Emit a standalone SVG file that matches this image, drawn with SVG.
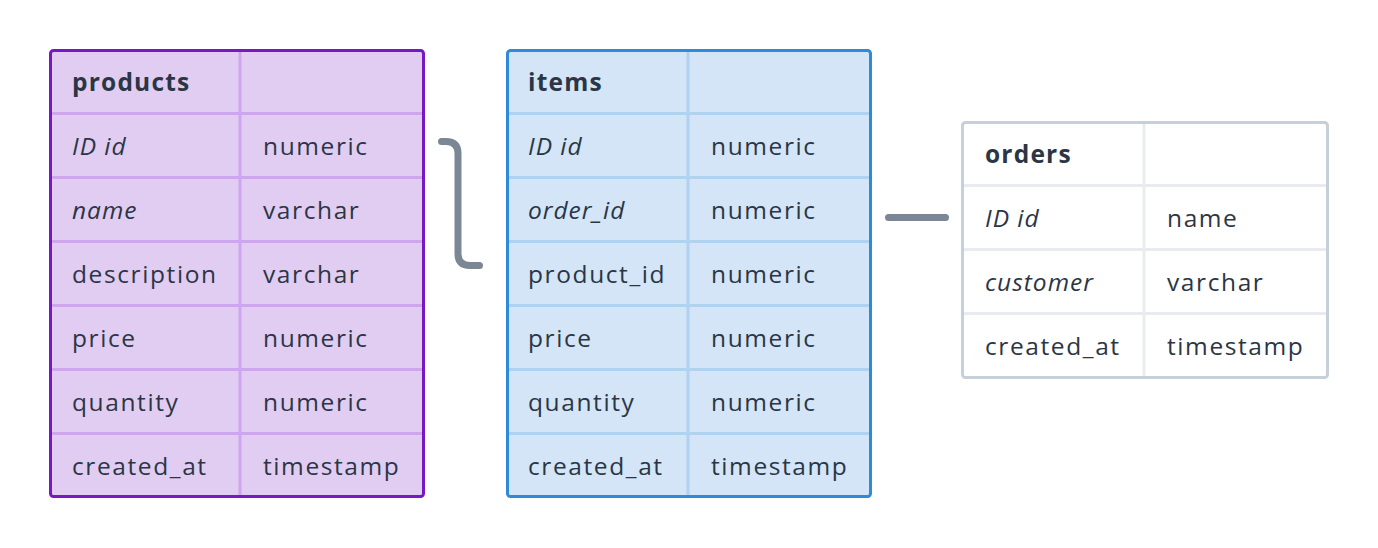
<svg xmlns="http://www.w3.org/2000/svg" width="1378" height="548" viewBox="0 0 1378 548">
<style>
text{font-family:"Open Sans","DejaVu Sans",sans-serif;font-size:24.5px;letter-spacing:1.6px;fill:#2b3645}
.h{font-weight:bold;letter-spacing:1.2px}
.i{font-style:italic;letter-spacing:1px}
.conn{fill:none;stroke:#7b8794;stroke-width:7;stroke-linecap:round;stroke-linejoin:round}
.p-in{stroke:#cfa6ec;stroke-width:3}
.b-in{stroke:#b0d2f1;stroke-width:3}
.o-in{stroke:#e8ecf0;stroke-width:3}
</style>
<rect width="1378" height="548" fill="#ffffff"/>
<g id="connectors">
<path class="conn" d="M441.5,141.5 H446 Q458,141.5 458,153.5 V253.5 Q458,265.5 470,265.5 H479.5"/>
<path class="conn" d="M888.5,217.5 H945.5"/>
</g>
<g id="products">
<rect x="50.5" y="50.5" width="373" height="446" rx="3" fill="#e1cdf2"/>
<g class="p-in">
<line x1="50" y1="113.5" x2="424" y2="113.5"/>
<line x1="50" y1="177.5" x2="424" y2="177.5"/>
<line x1="50" y1="241.5" x2="424" y2="241.5"/>
<line x1="50" y1="305.5" x2="424" y2="305.5"/>
<line x1="50" y1="369.5" x2="424" y2="369.5"/>
<line x1="50" y1="433.5" x2="424" y2="433.5"/>
<line x1="240" y1="50" x2="240" y2="497"/>
</g>
<rect x="50.5" y="50.5" width="373" height="446" rx="3" fill="none" stroke="#7a17c4" stroke-width="3"/>
<text x="72" y="91" class="h">products</text>
<text x="72" y="155" class="i">ID id</text><text x="263" y="155">numeric</text>
<text x="72" y="219" class="i">name</text><text x="263" y="219">varchar</text>
<text x="72" y="283">description</text><text x="263" y="283">varchar</text>
<text x="72" y="347">price</text><text x="263" y="347">numeric</text>
<text x="72" y="411">quantity</text><text x="263" y="411">numeric</text>
<text x="72" y="475">created_at</text><text x="263" y="475">timestamp</text>
</g>
<g id="items">
<rect x="507.5" y="50.5" width="363" height="446" rx="3" fill="#d3e5f6"/>
<g class="b-in">
<line x1="507" y1="113.5" x2="871" y2="113.5"/>
<line x1="507" y1="177.5" x2="871" y2="177.5"/>
<line x1="507" y1="241.5" x2="871" y2="241.5"/>
<line x1="507" y1="305.5" x2="871" y2="305.5"/>
<line x1="507" y1="369.5" x2="871" y2="369.5"/>
<line x1="507" y1="433.5" x2="871" y2="433.5"/>
<line x1="688" y1="50" x2="688" y2="497"/>
</g>
<rect x="507.5" y="50.5" width="363" height="446" rx="3" fill="none" stroke="#2f8ad9" stroke-width="3"/>
<text x="528" y="91" class="h">items</text>
<text x="528" y="155" class="i">ID id</text><text x="711" y="155">numeric</text>
<text x="528" y="219" class="i">order_id</text><text x="711" y="219">numeric</text>
<text x="528" y="283">product_id</text><text x="711" y="283">numeric</text>
<text x="528" y="347">price</text><text x="711" y="347">numeric</text>
<text x="528" y="411">quantity</text><text x="711" y="411">numeric</text>
<text x="528" y="475">created_at</text><text x="711" y="475">timestamp</text>
</g>
<g id="orders">
<rect x="962.5" y="122.5" width="365" height="255" rx="3" fill="#ffffff"/>
<g class="o-in">
<line x1="962" y1="185.5" x2="1328" y2="185.5"/>
<line x1="962" y1="249.5" x2="1328" y2="249.5"/>
<line x1="962" y1="313.5" x2="1328" y2="313.5"/>
<line x1="1144" y1="122" x2="1144" y2="378"/>
</g>
<rect x="962.5" y="122.5" width="365" height="255" rx="3" fill="none" stroke="#c5d0da" stroke-width="3"/>
<text x="985" y="163" class="h">orders</text>
<text x="985" y="227" class="i">ID id</text><text x="1167" y="227">name</text>
<text x="985" y="291" class="i">customer</text><text x="1167" y="291">varchar</text>
<text x="985" y="355">created_at</text><text x="1167" y="355">timestamp</text>
</g>
</svg>
